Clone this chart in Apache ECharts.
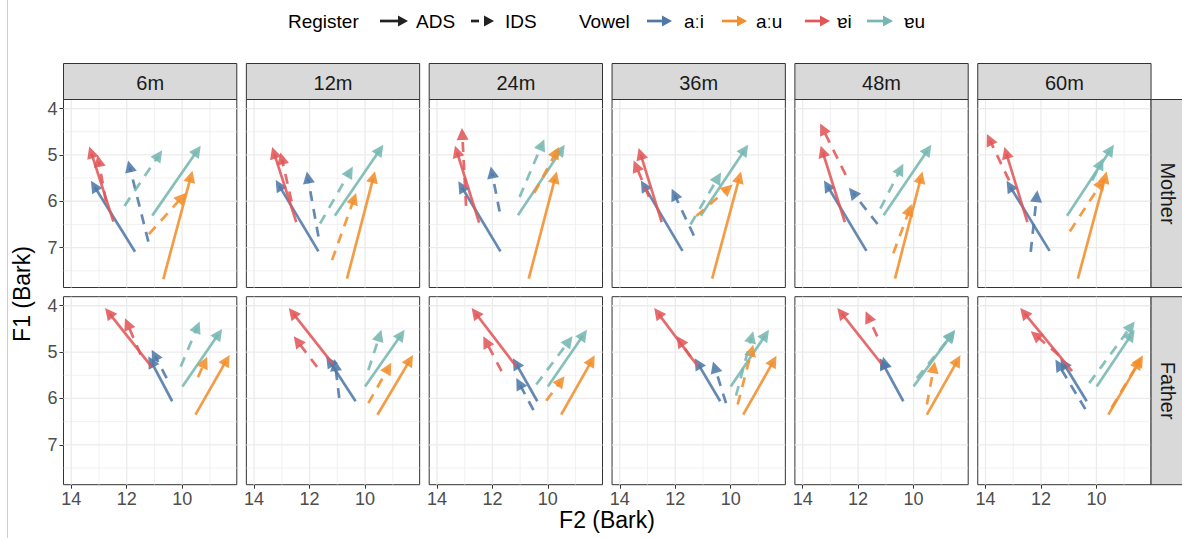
<!DOCTYPE html>
<html><head><meta charset="utf-8">
<script src="https://cdn.jsdelivr.net/npm/echarts@6/dist/echarts.min.js"></script>
<style>html,body{margin:0;padding:0;background:#fff}#c{width:1182px;height:538px}</style>
</head><body><div id="c"></div>
<script>
// ---------- data ----------
const ages = ['6m', '12m', '24m', '36m', '48m', '60m'];
const speakers = ['Mother', 'Father'];
const vowels = ['aːi', 'aːu', 'ɐi', 'ɐu'];
const registers = ['ADS', 'IDS'];
const xTickLabels = [14, 12, 10];
const xMinorGrid = [13, 11, 9];
const yTickLabels = [4, 5, 6, 7];
const yMinorGrid = [4.5, 5.5, 6.5, 7.5];
const xRange = [8.03, 14.28];   // F2 (Bark), reversed
const yRange = [3.805, 7.86];   // F1 (Bark), reversed

// each entry: [F2 onset, F1 onset, F2 offset, F1 offset]
// panels in order: Mother 6m..60m, then Father 6m..60m
const ai_ADS = [
  [11.70, 7.09, 13.29, 5.56], [11.68, 7.08, 13.22, 5.54], [11.71, 7.08, 13.23, 5.57],
  [11.74, 7.07, 13.24, 5.55], [11.70, 7.07, 13.23, 5.55], [11.69, 7.07, 13.24, 5.56],
  [10.36, 6.06, 11.22, 5.09], [10.34, 6.06, 11.40, 5.09], [10.38, 6.06, 11.26, 5.13],
  [10.38, 6.06, 11.30, 5.13], [10.37, 6.06, 11.22, 5.13], [10.35, 6.06, 11.30, 5.13]
];
const ai_IDS = [
  [11.22, 6.87, 11.95, 5.12], [11.68, 6.76, 12.10, 5.36], [11.74, 6.22, 12.06, 5.25],
  [11.33, 6.74, 12.13, 5.73], [11.30, 6.49, 12.33, 5.71], [12.37, 7.09, 12.13, 5.76],
  [10.56, 5.56, 11.10, 4.95], [10.93, 5.99, 11.10, 5.15], [10.52, 6.25, 11.14, 5.56],
  [10.17, 6.10, 10.64, 5.20], [11.00, 5.35, 11.10, 5.10], [10.40, 6.23, 11.48, 5.16]
];
const au_ADS = [
  [10.68, 7.68, 9.63, 5.34], [10.65, 7.67, 9.64, 5.35], [10.69, 7.67, 9.68, 5.36],
  [10.67, 7.67, 9.63, 5.36], [10.67, 7.67, 9.68, 5.36], [10.67, 7.67, 9.63, 5.36],
  [9.52, 6.35, 8.29, 5.06], [9.55, 6.35, 8.27, 5.06], [9.52, 6.35, 8.31, 5.07],
  [9.55, 6.35, 8.35, 5.08], [9.52, 6.35, 8.31, 5.07], [9.57, 6.35, 8.32, 5.07]
];
const au_IDS = [
  [11.20, 6.71, 9.87, 5.82], [11.19, 7.27, 10.32, 5.82], [10.49, 5.82, 9.60, 4.83],
  [11.24, 6.32, 9.93, 5.64], [10.73, 7.12, 10.07, 6.06], [10.96, 6.65, 9.70, 5.50],
  [9.43, 5.54, 9.10, 5.10], [9.88, 6.10, 9.05, 5.23], [10.06, 6.05, 9.40, 5.52],
  [9.75, 6.13, 9.19, 4.84], [9.52, 6.13, 9.23, 5.20], [9.45, 6.20, 8.38, 5.12]
];
const ei_ADS = [
  [12.48, 6.44, 13.35, 4.82], [12.48, 6.45, 13.35, 4.83], [12.48, 6.46, 13.35, 4.80],
  [12.49, 6.45, 13.32, 4.85], [12.48, 6.45, 13.35, 4.80], [12.49, 6.45, 13.32, 4.83],
  [11.10, 5.32, 12.78, 4.05], [11.14, 5.27, 12.75, 4.05], [11.14, 5.31, 12.75, 4.05],
  [11.18, 5.31, 12.76, 4.05], [11.08, 5.31, 12.75, 4.05], [10.88, 5.41, 12.75, 4.05]
];
const ei_IDS = [
  [12.75, 6.00, 13.05, 5.00], [12.65, 6.00, 13.05, 4.95], [12.95, 6.10, 13.10, 4.42],
  [12.95, 5.90, 13.50, 5.12], [12.45, 5.43, 13.37, 4.32], [13.15, 5.55, 13.95, 4.55],
  [11.50, 5.05, 12.06, 4.27], [11.73, 5.32, 12.57, 4.66], [11.67, 5.41, 12.33, 4.66],
  [11.45, 5.10, 11.95, 4.65], [11.31, 4.66, 11.73, 4.12], [11.36, 5.06, 12.37, 4.55]
];
const eu_ADS = [
  [11.08, 6.31, 9.33, 4.80], [11.09, 6.31, 9.34, 4.78], [11.08, 6.30, 9.39, 4.78],
  [11.08, 6.31, 9.37, 4.78], [11.08, 6.30, 9.36, 4.78], [11.06, 6.31, 9.37, 4.78],
  [9.99, 5.74, 8.56, 4.50], [10.00, 5.74, 8.57, 4.52], [10.00, 5.74, 8.59, 4.52],
  [10.00, 5.74, 8.62, 4.52], [10.00, 5.74, 8.50, 4.52], [9.99, 5.74, 8.62, 4.52]
];
const eu_IDS = [
  [12.08, 6.10, 10.72, 4.90], [11.62, 6.48, 10.44, 5.25], [11.02, 5.91, 10.13, 4.66],
  [11.45, 6.50, 10.35, 5.38], [11.20, 6.16, 10.37, 5.19], [10.15, 5.55, 9.75, 5.07],
  [10.05, 5.31, 9.37, 4.34], [9.88, 5.39, 9.41, 4.52], [10.42, 5.70, 9.11, 4.66],
  [9.81, 5.94, 9.19, 4.55], [9.88, 5.56, 8.51, 4.55], [10.26, 5.67, 8.62, 4.34]
];

const vowelColors = ['#4E79A7', '#F28E2B', '#E15759', '#76B7B2'];
const arrowSets = [
  { v: 0, r: 0, data: ai_ADS }, { v: 1, r: 0, data: au_ADS }, { v: 2, r: 0, data: ei_ADS }, { v: 3, r: 0, data: eu_ADS },
  { v: 0, r: 1, data: ai_IDS }, { v: 1, r: 1, data: au_IDS }, { v: 2, r: 1, data: ei_IDS }, { v: 3, r: 1, data: eu_IDS }
];

// ---------- layout ----------
const FONT = '"Liberation Sans", Arial, sans-serif';
const PANEL_L0 = 63.5, PANEL_STEP = 182.85, PANEL_W = 173.3;
const ROW_TOP = [99.5, 296.7], PANEL_H = 188;
const STRIP_TOP = 63.5, STRIP_H = 36;
const HEAD_L = 12, HEAD_W = 6, LW = 2.7, ALPHA = 0.88;

function arrowRender(color, dashed) {
  return function (params, api) {
    const p1 = api.coord([api.value(0), api.value(1)]);
    const p2 = api.coord([api.value(2), api.value(3)]);
    const dx = p2[0] - p1[0], dy = p2[1] - p1[1];
    const len = Math.hypot(dx, dy) || 1;
    const ux = dx / len, uy = dy / len;
    const bx = p2[0] - ux * HEAD_L, by = p2[1] - uy * HEAD_L;
    const lx = p2[0] - ux * HEAD_L * 0.6, ly = p2[1] - uy * HEAD_L * 0.6;
    return {
      type: 'group',
      children: [
        { type: 'line', shape: { x1: p1[0], y1: p1[1], x2: lx, y2: ly },
          style: { stroke: color, lineWidth: LW, lineDash: dashed ? [10, 8] : null, lineCap: 'butt', opacity: ALPHA } },
        { type: 'polygon', shape: { points: [[p2[0], p2[1]], [bx - uy * HEAD_W, by + ux * HEAD_W], [bx + uy * HEAD_W, by - ux * HEAD_W]] },
          style: { fill: color, opacity: ALPHA } }
      ]
    };
  };
}

function vGridRender(params, api) {
  const cs = params.coordSys;
  const p = api.coord([api.value(0), yRange[0]]);
  return { type: 'line', silent: true,
    shape: { x1: p[0], y1: cs.y, x2: p[0], y2: cs.y + cs.height },
    style: { stroke: '#EBEBEB', lineWidth: api.value(1) ? 1.3 : 0.7 } };
}
function hGridRender(params, api) {
  const cs = params.coordSys;
  const p = api.coord([xRange[0], api.value(0)]);
  return { type: 'line', silent: true,
    shape: { x1: cs.x, y1: p[1], x2: cs.x + cs.width, y2: p[1] },
    style: { stroke: '#EBEBEB', lineWidth: api.value(1) ? 1.3 : 0.7 } };
}

const grids = [], xAxes = [], yAxes = [], series = [], graphics = [];
for (let r = 0; r < 2; r++) {
  for (let c = 0; c < 6; c++) {
    const i = r * 6 + c;
    const left = PANEL_L0 + c * PANEL_STEP;
    grids.push({ left: left, top: ROW_TOP[r], width: PANEL_W, height: PANEL_H,
      show: true, borderColor: '#333333', borderWidth: 1, backgroundColor: '#fff' });
    xAxes.push({ gridIndex: i, type: 'value', inverse: true, min: xRange[0], max: xRange[1],
      splitLine: { show: false }, axisLine: { show: false },
      axisTick: { show: r === 1, customValues: xTickLabels, length: 4, lineStyle: { color: '#333', width: 1 } },
      axisLabel: { show: r === 1, customValues: xTickLabels, margin: 5, color: '#4D4D4D', fontSize: 18, fontFamily: FONT,
        formatter: v => (xTickLabels.indexOf(v) >= 0 ? String(v) : '') } });
    yAxes.push({ gridIndex: i, type: 'value', inverse: true, min: yRange[0], max: yRange[1],
      splitLine: { show: false }, axisLine: { show: false },
      axisTick: { show: c === 0, customValues: yTickLabels, length: 4, lineStyle: { color: '#333', width: 1 } },
      axisLabel: { show: c === 0, customValues: yTickLabels, margin: 6, color: '#4D4D4D', fontSize: 18, fontFamily: FONT,
        formatter: v => (yTickLabels.indexOf(v) >= 0 ? String(v) : '') } });
    series.push({ type: 'custom', xAxisIndex: i, yAxisIndex: i, silent: true, z: 1,
      renderItem: vGridRender, encode: { x: 0 },
      data: xTickLabels.map(v => [v, 1]).concat(xMinorGrid.map(v => [v, 0])) });
    series.push({ type: 'custom', xAxisIndex: i, yAxisIndex: i, silent: true, z: 1,
      renderItem: hGridRender, encode: { y: 0 },
      data: yTickLabels.map(v => [v, 1]).concat(yMinorGrid.map(v => [v, 0])) });
    arrowSets.forEach(s => {
      series.push({ type: 'custom', name: vowels[s.v] + ' ' + registers[s.r], xAxisIndex: i, yAxisIndex: i, z: 2,
        renderItem: arrowRender(vowelColors[s.v], s.r === 1),
        encode: { x: [0, 2], y: [1, 3] }, data: [s.data[i]] });
    });
  }
}

// strips (facet labels)
ages.forEach((a, c) => {
  const left = PANEL_L0 + c * PANEL_STEP;
  graphics.push({ type: 'rect', shape: { x: left, y: STRIP_TOP, width: PANEL_W, height: STRIP_H },
    style: { fill: '#D9D9D9', stroke: '#333333', lineWidth: 1 }, z: 5 });
  graphics.push({ type: 'text', x: left + PANEL_W / 2, y: STRIP_TOP + STRIP_H / 2 + 1, z: 6,
    style: { text: a, align: 'center', verticalAlign: 'middle', fontSize: 20, fontFamily: FONT, fill: '#1A1A1A' } });
});
const stripX = PANEL_L0 + 5 * PANEL_STEP + PANEL_W;
speakers.forEach((s, r) => {
  graphics.push({ type: 'rect', shape: { x: stripX, y: ROW_TOP[r], width: 40, height: PANEL_H },
    style: { fill: '#D9D9D9', stroke: '#333333', lineWidth: 1 }, z: 5 });
  graphics.push({ type: 'text', x: stripX + 17, y: ROW_TOP[r] + PANEL_H / 2, rotation: -Math.PI / 2, z: 6,
    style: { text: s, align: 'center', verticalAlign: 'middle', fontSize: 20, fontFamily: FONT, fill: '#1A1A1A' } });
});

// axis titles
graphics.push({ type: 'text', x: 22, y: 294, rotation: Math.PI / 2, z: 6,
  style: { text: 'F1 (Bark)', align: 'center', verticalAlign: 'middle', fontSize: 23, fontFamily: FONT, fill: '#000' } });
graphics.push({ type: 'text', x: 607, y: 520, z: 6,
  style: { text: 'F2 (Bark)', align: 'center', verticalAlign: 'middle', fontSize: 23, fontFamily: FONT, fill: '#000' } });

// legend
const LY = 21;
function legendArrow(x0, x1, color, dashed) {
  const hl = 10, hw = 5.5;
  if (dashed) {
    graphics.push({ type: 'line', shape: { x1: x0, y1: LY, x2: x0 + 8, y2: LY }, style: { stroke: color, lineWidth: LW } });
  } else {
    graphics.push({ type: 'line', shape: { x1: x0, y1: LY, x2: x1 - hl * 0.6, y2: LY }, style: { stroke: color, lineWidth: LW } });
  }
  graphics.push({ type: 'polygon', shape: { points: [[x1, LY], [x1 - hl, LY - hw], [x1 - hl, LY + hw]] }, style: { fill: color } });
}
function legendText(x, t) {
  graphics.push({ type: 'text', x: x, y: LY, style: { text: t, align: 'left', verticalAlign: 'middle', fontSize: 19, fontFamily: FONT, fill: '#000' } });
}
legendText(288, 'Register');
legendArrow(380, 408, '#222', false); legendText(416, registers[0]);
legendArrow(471, 494, '#222', true); legendText(505, registers[1]);
legendText(579, 'Vowel');
const vx = [[647, 672, 684], [722, 747, 756], [805, 830, 837], [867, 893, 904]];
vowels.forEach((v, k) => { legendArrow(vx[k][0], vx[k][1], vowelColors[k], false); legendText(vx[k][2], v); });

// faint page edge line
graphics.push({ type: 'line', shape: { x1: 7.5, y1: 0, x2: 7.5, y2: 538 }, style: { stroke: '#CFCFCF', lineWidth: 1 } });

const chart = echarts.init(document.getElementById('c'), null, { renderer: 'svg', width: 1182, height: 538 });
chart.setOption({
  animation: false,
  backgroundColor: '#fff',
  grid: grids, xAxis: xAxes, yAxis: yAxes, series: series,
  graphic: { elements: graphics }
});
</script></body></html>
